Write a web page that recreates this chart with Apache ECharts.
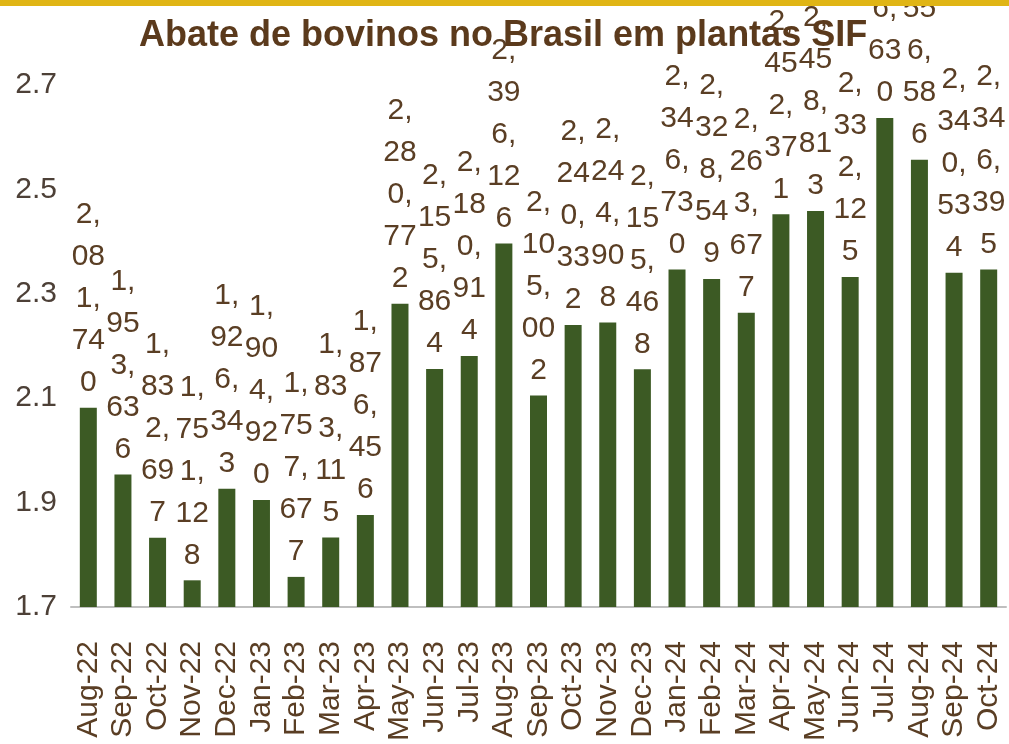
<!DOCTYPE html>
<html>
<head>
<meta charset="utf-8">
<script src="https://cdn.jsdelivr.net/npm/echarts@6/dist/echarts.min.js"></script>
<style>
  html, body { margin: 0; padding: 0; background: #fff; }
  #chart { width: 1009px; height: 744px; }
</style>
</head>
<body>
<div id="chart"></div>
<script>
// abate mensal de bovinos (cabeças), plantas SIF
var months = ['Aug-22','Sep-22','Oct-22','Nov-22','Dec-22','Jan-23','Feb-23','Mar-23','Apr-23',
  'May-23','Jun-23','Jul-23','Aug-23','Sep-23','Oct-23','Nov-23','Dec-23','Jan-24','Feb-24',
  'Mar-24','Apr-24','May-24','Jun-24','Jul-24','Aug-24','Sep-24','Oct-24'];
var abate = [2081740, 1953636, 1832697, 1751128, 1926343, 1904920, 1757677, 1833115, 1876456,
  2280772, 2155864, 2180914, 2396126, 2105002, 2240332, 2244908, 2155468, 2346730, 2328549,
  2263677, 2452371, 2458813, 2332125, 2636630, 2556586, 2340534, 2346395];
var yTicks = [1.7, 1.9, 2.1, 2.3, 2.5, 2.7];

var font = "'Liberation Sans', Arial, sans-serif";
var brown = '#5a3e24';

function fmt(v) {
  return String(v).replace(/\B(?=(\d{3})+(?!\d))/g, ',');
}

var chart = echarts.init(document.getElementById('chart'));
chart.setOption({
  backgroundColor: '#fff',
  animation: false,
  title: {
    text: 'Abate de bovinos no Brasil em plantas SIF',
    left: 134,
    top: 13,
    textStyle: { fontFamily: font, fontWeight: 'bold', fontSize: 36, color: '#5b3a1c' }
  },
  graphic: [{
    type: 'rect', left: 0, top: 0, z: 10,
    shape: { width: 1009, height: 6 },
    style: { fill: '#e0b515' }
  }],
  grid: { left: 71, right: 3, top: 85, bottom: 137, outerBoundsMode: 'none' },
  xAxis: {
    type: 'category',
    data: months,
    axisLine: { lineStyle: { color: '#bfbfbf', width: 2 } },
    axisTick: { show: false },
    axisLabel: {
      rotate: 90, margin: 34, interval: 0,
      fontFamily: font, fontSize: 30, color: brown
    }
  },
  yAxis: {
    type: 'value',
    min: 1700000, max: 2700000, interval: 100000,
    splitLine: { show: false },
    axisLine: { show: false },
    axisTick: { show: false },
    axisLabel: {
      margin: 14,
      fontFamily: font, fontSize: 30, color: '#4d4037',
      formatter: function (v) {
        var t = Math.round(v / 100000) / 10;
        return yTicks.indexOf(t) >= 0 ? t.toFixed(1) : '';
      }
    }
  },
  series: [{
    type: 'bar',
    data: abate,
    barWidth: 17,
    itemStyle: { color: '#3c5a24' },
    label: {
      show: true,
      position: 'top',
      distance: 4,
      width: 35,
      overflow: 'breakAll',
      lineHeight: 42,
      fontFamily: font,
      fontSize: 30,
      color: brown,
      formatter: function (p) { return fmt(p.value); }
    }
  }]
});
</script>
</body>
</html>
